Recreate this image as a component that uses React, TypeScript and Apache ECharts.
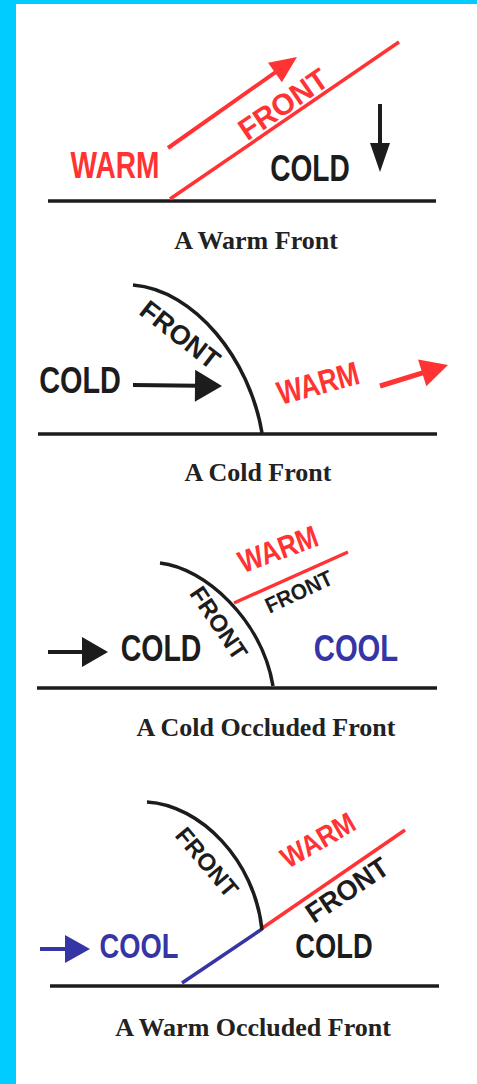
import React, { useEffect, useRef } from "react";
import * as echarts from "echarts";

const W = 477;
const H = 1084;
const RED = "#ff3333";
const BLACK = "#1c1c1c";
const BLUE = "#3535a5";
const CYAN = "#00ccff";

// panel captions: text, cx, cy
const captions: [string, number, number][] = [
  ["A Warm Front", 256, 240],
  ["A Cold Front", 258, 472],
  ["A Cold Occluded Front", 266, 727],
  ["A Warm Occluded Front", 253, 1027],
];

// ground lines: x1, y, x2
const grounds: [number, number, number][] = [
  [48, 201, 436],
  [38, 434, 437],
  [37, 688, 437],
  [50, 986, 439],
];

// straight fronts: x1, y1, x2, y2, color
const fronts: [number, number, number, number, string][] = [
  [170, 199, 399, 42, RED],
  [234, 603, 348, 552, RED],
  [261, 929, 405, 830, RED],
  [182, 983, 262, 929, BLUE],
];

// curved cold fronts (cubic bezier): x1,y1,cp1x,cp1y,cp2x,cp2y,x2,y2
const arcs: number[][] = [
  [133, 285, 195, 290, 250, 360, 262, 433],
  [160, 563, 205, 568, 262, 620, 273, 686],
  [147, 802, 200, 805, 255, 860, 262, 930],
];

// arrows: x1, y1, x2(tip), y2(tip), headLen, headHalfWidth, lineWidth, color
const arrows: [number, number, number, number, number, number, number, string][] = [
  [168, 148, 297, 57, 27, 12, 4, RED],
  [380, 104, 380, 172, 29, 10, 4, BLACK],
  [133, 385, 222, 386, 27, 16, 4, BLACK],
  [380, 386, 448, 365, 27, 14, 5, RED],
  [48, 652, 108, 652, 26, 15, 4, BLACK],
  [40, 949, 90, 949, 25, 14, 4, BLUE],
];

// labels: text, cx, cy, rotation (deg, ccw), fontSize, scaleX, color
const labels: [string, number, number, number, number, number, string][] = [
  ["WARM", 115, 165, 0, 37, 0.76, RED],
  ["COLD", 310, 168, 0, 37, 0.76, BLACK],
  ["FRONT", 283, 104, 34.4, 30, 0.98, RED],
  ["COLD", 80, 380, 0, 37, 0.78, BLACK],
  ["FRONT", 180, 335, -38, 27, 1.0, BLACK],
  ["WARM", 318, 383, 15, 33, 0.8, RED],
  ["WARM", 278, 549, 20, 31, 0.84, RED],
  ["FRONT", 299, 592, 25, 22, 0.95, BLACK],
  ["FRONT", 219, 623, -56, 24, 1.0, BLACK],
  ["COLD", 161, 648, 0, 37, 0.77, BLACK],
  ["COOL", 356, 648, 0, 37, 0.79, BLUE],
  ["WARM", 318, 840, 30, 29, 0.88, RED],
  ["FRONT", 347, 890, 34, 28, 0.97, BLACK],
  ["FRONT", 207, 862, -50, 24, 1.0, BLACK],
  ["COOL", 139, 946, 0, 35, 0.78, BLUE],
  ["COLD", 334, 946, 0, 35, 0.78, BLACK],
];

function textEl(
  t: string, x: number, y: number, rotDeg: number, size: number, sx: number,
  color: string, family: string, weight: string
) {
  return {
    type: "text",
    x,
    y,
    rotation: (rotDeg * Math.PI) / 180,
    scaleX: sx,
    z: 10,
    style: {
      text: t,
      fill: color,
      fontSize: size,
      fontWeight: weight,
      fontFamily: family,
      align: "center",
      verticalAlign: "middle",
      textAlign: "center",
      textVerticalAlign: "middle",
    },
  };
}

function arrowEls(
  x1: number, y1: number, x2: number, y2: number,
  hl: number, hw: number, lw: number, color: string
) {
  const dx = x2 - x1;
  const dy = y2 - y1;
  const L = Math.hypot(dx, dy);
  const ux = dx / L;
  const uy = dy / L;
  const bx = x2 - ux * hl;
  const by = y2 - uy * hl;
  const px = -uy;
  const py = ux;
  return [
    {
      type: "line",
      z: 5,
      shape: { x1, y1, x2: bx + ux * 3, y2: by + uy * 3 },
      style: { stroke: color, lineWidth: lw, lineCap: "butt" },
    },
    {
      type: "polygon",
      z: 5,
      shape: {
        points: [
          [x2, y2],
          [bx + px * hw, by + py * hw],
          [bx - px * hw, by - py * hw],
        ],
      },
      style: { fill: color },
    },
  ];
}

function buildElements() {
  const els: any[] = [];
  els.push({ type: "rect", z: 0, shape: { x: 0, y: 0, width: W, height: H }, style: { fill: "#ffffff" } });
  els.push({ type: "rect", z: 1, shape: { x: 0, y: 0, width: W, height: 4 }, style: { fill: CYAN } });
  els.push({ type: "rect", z: 1, shape: { x: 0, y: 0, width: 16, height: H }, style: { fill: CYAN } });

  grounds.forEach(([x1, y, x2]) => {
    els.push({
      type: "line",
      z: 4,
      shape: { x1, y1: y, x2, y2: y },
      style: { stroke: BLACK, lineWidth: 3.5 },
    });
  });

  fronts.forEach(([x1, y1, x2, y2, c]) => {
    els.push({
      type: "line",
      z: 5,
      shape: { x1, y1, x2, y2 },
      style: { stroke: c, lineWidth: 3.5, lineCap: "butt" },
    });
  });

  arcs.forEach(([x1, y1, c1x, c1y, c2x, c2y, x2, y2]) => {
    els.push({
      type: "bezierCurve",
      z: 5,
      shape: { x1, y1, cpx1: c1x, cpy1: c1y, cpx2: c2x, cpy2: c2y, x2, y2 },
      style: { stroke: BLACK, lineWidth: 3.5, fill: null },
    });
  });

  arrows.forEach(([x1, y1, x2, y2, hl, hw, lw, c]) => {
    els.push(...arrowEls(x1, y1, x2, y2, hl, hw, lw, c));
  });

  labels.forEach(([t, x, y, r, s, sx, c]) => {
    els.push(textEl(t, x, y, r, s, sx, c, "'Liberation Sans', Arial, sans-serif", "bold"));
  });

  captions.forEach(([t, x, y]) => {
    els.push(textEl(t, x, y, 0, 26, 1, "#222222", "'Liberation Serif', 'Times New Roman', serif", "bold"));
  });

  return els;
}

export default function App() {
  const ref = useRef<HTMLDivElement>(null);
  useEffect(() => {
    if (!ref.current) return;
    const chart = echarts.init(ref.current, undefined, { renderer: "svg" });
    chart.setOption({
      animation: false,
      backgroundColor: "#ffffff",
      graphic: { elements: buildElements() },
    });
    return () => chart.dispose();
  }, []);
  return (
    <div
      ref={ref}
      style={{ position: "absolute", left: 0, top: 0, width: W, height: H }}
    />
  );
}
